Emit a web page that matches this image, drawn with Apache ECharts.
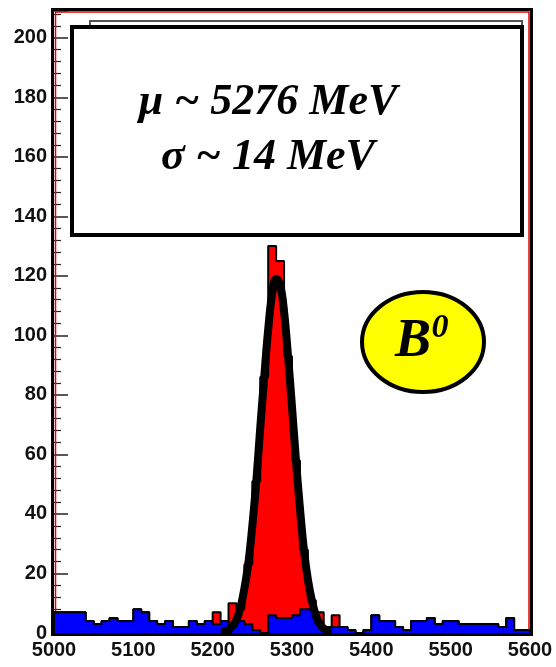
<!DOCTYPE html>
<html><head><meta charset="utf-8">
<script src="https://cdn.jsdelivr.net/npm/echarts@6/dist/echarts.min.js"></script>
<style>html,body{margin:0;padding:0;background:#fff}#c{width:556px;height:667px}</style>
</head><body><div id="c"></div>
<script>
// Histogram bins: 60 bins of 10 MeV from 5000 to 5600
const binLow = 5000, binHigh = 5600, binWidth = 10;
// background (blue) counts per bin
const background = [7,7,7,7,4,3,4,5,4,4, 8,7,4,3,4,2,2,4,3,4, 3,4,2,4,3,1,0,6,5,5, 6,8,8,3,2,2,2,1,0,1, 6,4,4,2,1,4,4,5,3,4, 4,3,3,3,3,3,2,5,1,1];
// total (red) counts per bin
const total = [7,7,7,7,4,3,4,5,4,4, 8,7,4,3,4,2,2,4,3,4, 7,4,10,8,23,51,86,130,125,93, 58,28,11,7,2,6,2,1,0,1, 6,4,4,2,1,4,4,5,3,4, 4,3,3,3,3,3,2,5,1,1];
// fitted curve
const fitX = [5215,5220,5225,5230,5235,5240,5245,5250,5255,5260,5265,5270,5275,5280,5285,5290,5295,5300,5305,5310,5315,5320,5325,5330,5335,5340,5345];
const fitY = [0.5,1,2.5,4.5,8.5,15,23.5,36,51,69,86,102,114,119,117,108,93,76,58,42,28,18,11,6,3,1.5,0.7];
const yMax = 209;

function stepData(vals){
  const d = [[binLow, 0]];
  vals.forEach((v,i)=>d.push([binLow + i*binWidth, v]));
  d.push([binHigh, vals[vals.length-1]]);
  d.push([binHigh, 0]);
  return d;
}
const fitData = fitX.map((x,i)=>[x, fitY[i]]);

const labelFont = {fontFamily:'Liberation Sans', fontWeight:'bold', fontSize:20, color:'#111'};
const chart = echarts.init(document.getElementById('c'), null, {renderer:'canvas'});
chart.setOption({
  backgroundColor:'#fff',
  animation:false,
  grid:{left:54, right:26, top:11, bottom:34},
  xAxis:{type:'value', min:binLow, max:binHigh, interval:100,
    axisLine:{show:true, lineStyle:{color:'#000', width:3}},
    axisTick:{show:false}, splitLine:{show:false},
    axisLabel:Object.assign({margin:7, showMinLabel:true, showMaxLabel:true, formatter:v=>String(v)}, labelFont)},
  yAxis:{type:'value', min:0, max:yMax, interval:20,
    axisLine:{show:false},
    axisTick:{show:true, inside:true, length:14, lineStyle:{color:'#222', width:1.5}},
    minorTick:{show:true, splitNumber:5, length:7, lineStyle:{color:'#222', width:1.2}},
    splitLine:{show:false}, minorSplitLine:{show:false},
    axisLabel:Object.assign({margin:7, showMaxLabel:false, formatter:v=>String(v)}, labelFont)},
  series:[
    {type:'line', step:'end', data:stepData(total), symbol:'none', z:3,
     lineStyle:{color:'#000', width:2}, areaStyle:{color:'#ff0000', opacity:1}},
    {type:'line', step:'end', data:stepData(background), symbol:'none', z:4,
     lineStyle:{color:'#000', width:2}, areaStyle:{color:'#0000ff', opacity:1}},
    {type:'line', data:fitData, smooth:0.4, symbol:'none', z:5,
     lineStyle:{color:'#000', width:8, cap:'round', join:'round'}}
  ],
  graphic:[
    {type:'rect', z:1, shape:{x:55.5, y:12, width:473.5, height:621}, style:{fill:'none', stroke:'#e00000', lineWidth:1.5}},
    {type:'rect', z:50, shape:{x:52.5, y:9.5, width:479, height:625}, style:{fill:'none', stroke:'#000', lineWidth:3}},
    {type:'rect', z:99, shape:{x:90, y:21, width:432, height:100}, style:{fill:'#fff', stroke:'#555', lineWidth:2}},
    {type:'rect', z:100, shape:{x:72, y:27, width:450, height:208}, style:{fill:'#fff', stroke:'#000', lineWidth:4}},
    {type:'text', z:101, x:268, y:103, style:{text:'μ ~ 5276 MeV', fontFamily:'Liberation Serif', fontWeight:'bold', fontStyle:'italic', fontSize:44, fill:'#000', align:'center', verticalAlign:'middle'}},
    {type:'text', z:101, x:268, y:158, style:{text:'σ ~ 14 MeV', fontFamily:'Liberation Serif', fontWeight:'bold', fontStyle:'italic', fontSize:44, fill:'#000', align:'center', verticalAlign:'middle'}},
    {type:'ellipse', z:100, shape:{cx:423, cy:342, rx:61, ry:50}, style:{fill:'#ffff00', stroke:'#000', lineWidth:4}},
    {type:'text', z:101, x:413, y:342, style:{text:'B', fontFamily:'Liberation Serif', fontWeight:'bold', fontStyle:'italic', fontSize:54, fill:'#000', align:'center', verticalAlign:'middle'}},
    {type:'text', z:101, x:440, y:328, style:{text:'0', fontFamily:'Liberation Serif', fontWeight:'bold', fontStyle:'italic', fontSize:34, fill:'#000', align:'center', verticalAlign:'middle'}}
  ]
});
</script></body></html>
